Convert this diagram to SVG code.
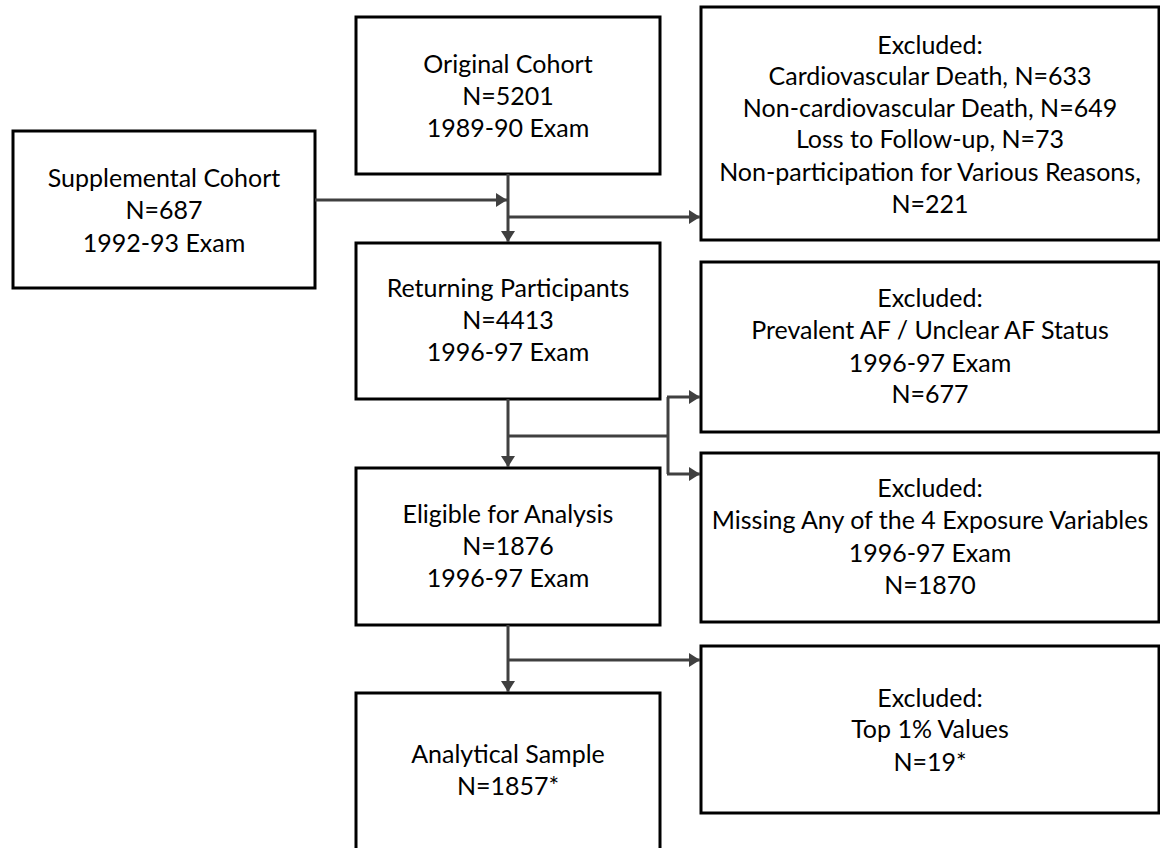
<svg xmlns="http://www.w3.org/2000/svg" width="1160" height="848" viewBox="0 0 1160 848">
<style>
.box{fill:#fff;stroke:#000;stroke-width:3}
.t{font-family:Lato,"Liberation Sans",sans-serif;font-size:25px;fill:#000;text-anchor:middle}
.c{fill:none;stroke:#404040;stroke-width:3}
</style>
<defs>
<marker id="ah" viewBox="0 0 11 14" refX="11" refY="7" markerWidth="3.7" markerHeight="4.7" markerUnits="strokeWidth" orient="auto">
<path d="M0,0 L11,7 L0,14 z" fill="#404040"/>
</marker>
</defs>
<rect width="1160" height="848" fill="#fff"/>
<g id="supplemental">
<rect class="box" x="13" y="131" width="302" height="157"/>
<text class="t" x="164" y="187">Supplemental Cohort</text>
<text class="t" x="164" y="219">N=687</text>
<text class="t" x="164" y="252">1992-93 Exam</text>
</g>
<g id="original">
<rect class="box" x="356" y="17" width="304" height="157"/>
<text class="t" x="508" y="73">Original Cohort</text>
<text class="t" x="508" y="105">N=5201</text>
<text class="t" x="508" y="137">1989-90 Exam</text>
</g>
<g id="returning">
<rect class="box" x="356" y="243" width="304" height="156"/>
<text class="t" x="508" y="297">Returning Participants</text>
<text class="t" x="508" y="329">N=4413</text>
<text class="t" x="508" y="361">1996-97 Exam</text>
</g>
<g id="eligible">
<rect class="box" x="356" y="468" width="304" height="157"/>
<text class="t" x="508" y="523">Eligible for Analysis</text>
<text class="t" x="508" y="555">N=1876</text>
<text class="t" x="508" y="587">1996-97 Exam</text>
</g>
<g id="analytical">
<rect class="box" x="356" y="693" width="304" height="170"/>
<text class="t" x="508" y="763">Analytical Sample</text>
<text class="t" x="508" y="795">N=1857*</text>
</g>
<g id="excluded1">
<rect class="box" x="701" y="7" width="458" height="233"/>
<text class="t" x="930" y="54">Excluded:</text>
<text class="t" x="930" y="85">Cardiovascular Death, N=633</text>
<text class="t" x="930" y="117">Non-cardiovascular Death, N=649</text>
<text class="t" x="930" y="148">Loss to Follow-up, N=73</text>
<text class="t" x="930" y="181">Non-participation for Various Reasons,</text>
<text class="t" x="930" y="213">N=221</text>
</g>
<g id="excluded2">
<rect class="box" x="701" y="262" width="458" height="170"/>
<text class="t" x="930" y="307">Excluded:</text>
<text class="t" x="930" y="339">Prevalent AF / Unclear AF Status</text>
<text class="t" x="930" y="372">1996-97 Exam</text>
<text class="t" x="930" y="403">N=677</text>
</g>
<g id="excluded3">
<rect class="box" x="701" y="453" width="458" height="169"/>
<text class="t" x="930" y="497">Excluded:</text>
<text class="t" x="930" y="529">Missing Any of the 4 Exposure Variables</text>
<text class="t" x="930" y="562">1996-97 Exam</text>
<text class="t" x="930" y="594">N=1870</text>
</g>
<g id="excluded4">
<rect class="box" x="701" y="646" width="458" height="167"/>
<text class="t" x="930" y="707">Excluded:</text>
<text class="t" x="930" y="738">Top 1% Values</text>
<text class="t" x="930" y="771">N=19*</text>
</g>
<g id="connectors">
<path class="c" d="M315,200 H507" marker-end="url(#ah)"/>
<path class="c" d="M508,174 V242" marker-end="url(#ah)"/>
<path class="c" d="M508,217 H700" marker-end="url(#ah)"/>
<path class="c" d="M508,399 V467" marker-end="url(#ah)"/>
<path class="c" d="M508,436 H668"/>
<path class="c" d="M668,397 V474"/>
<path class="c" d="M667,397 H700" marker-end="url(#ah)"/>
<path class="c" d="M667,474 H700" marker-end="url(#ah)"/>
<path class="c" d="M508,625 V692" marker-end="url(#ah)"/>
<path class="c" d="M508,660 H700" marker-end="url(#ah)"/>
</g>
</svg>
